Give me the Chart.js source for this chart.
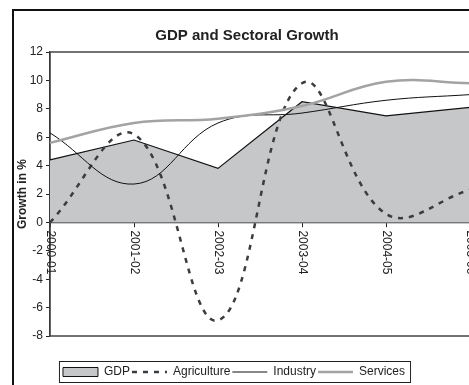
<!DOCTYPE html>
<html>
<head>
<meta charset="utf-8">
<script src="https://cdn.jsdelivr.net/npm/chart.js@4"></script>
<style>
  html, body { margin: 0; padding: 0; width: 469px; height: 385px; overflow: hidden; background: #fff; }
  #wrap { position: absolute; left: 0; top: 0; width: 500px; height: 400px; }
  #frame { position: absolute; left: 12px; top: 9px; width: 480px; height: 400px; border: 2px solid #111; pointer-events: none; }
</style>
</head>
<body>
<div id="wrap"><canvas id="gdpChart" width="500" height="400"></canvas></div>
<div id="frame"></div>
<script>
// categories and series
const years = ['2000-01', '2001-02', '2002-03', '2003-04', '2004-05', '2005-06'];
const gdp = [4.4, 5.8, 3.8, 8.5, 7.5, 8.1];
const agriculture = [0.0, 6.2, -6.9, 9.8, 0.6, 2.3];
const industry = [6.3, 2.7, 7.0, 7.7, 8.6, 9.0];
const services = [5.6, 7.0, 7.3, 8.2, 9.9, 9.8];

const font = 'Liberation Sans';

// x labels rotated clockwise under the zero line
const xLabels = {
    id: 'xLabels',
    afterDatasetsDraw(chart) {
        const ctx = chart.ctx;
        const xs = chart.scales.x;
        const y0 = chart.scales.y.getPixelForValue(0);
        ctx.save();
        ctx.font = '12px "' + font + '"';
        ctx.fillStyle = '#222';
        ctx.textAlign = 'left';
        ctx.textBaseline = 'middle';
        years.forEach((lab, i) => {
            ctx.save();
            ctx.translate(xs.getPixelForValue(i), y0 + 8);
            ctx.rotate(Math.PI / 2);
            ctx.fillText(lab, 0, 0);
            ctx.restore();
        });
        ctx.restore();
    }
};

// plot area frame + legend box + small position fixes
const frame = {
    id: 'frame',
    afterLayout(chart) {
        chart.legend.left -= 8;
        chart.legend.right -= 8;
        chart.legend.top += 28;
        chart.legend.bottom += 28;
        chart.titleBlock.left += 5;
        chart.titleBlock.right += 5;
    },
    beforeDatasetsDraw(chart) {
        const {ctx, chartArea: a} = chart;
        ctx.save();
        ctx.strokeStyle = '#444';
        ctx.lineWidth = 1.5;
        ctx.strokeRect(a.left, a.top, a.right - a.left, a.bottom - a.top);
        ctx.restore();
    },
    afterDraw(chart) {
        const boxes = chart.legend.legendHitBoxes;
        if (!boxes || !boxes.length) return;
        const first = boxes[0], last = boxes[boxes.length - 1];
        const cy = first.top + first.height / 2;
        const ctx = chart.ctx;
        ctx.save();
        ctx.strokeStyle = '#222';
        ctx.lineWidth = 1;
        ctx.strokeRect(first.left - 3.5, cy - 10.5, last.left + last.width - first.left + 9, 21);
        ctx.restore();
    }
};

const data = {
    labels: years,
    datasets: [
        {
            label: 'GDP',
            data: gdp,
            backgroundColor: '#c6c7c9',
            borderColor: '#111',
            borderWidth: 1.2,
            fill: 'origin',
            tension: 0,
            pointRadius: 0,
            pointStyle: 'rect',
            order: 4
        },
        {
            label: 'Agriculture',
            data: agriculture,
            borderColor: '#3a3d40',
            backgroundColor: '#3a3d40',
            borderWidth: 2.5,
            borderDash: [5, 6],
            fill: false,
            tension: 0.4,
            pointRadius: 0,
            pointStyle: 'line',
            order: 3
        },
        {
            label: 'Industry',
            data: industry,
            borderColor: '#111',
            backgroundColor: '#111',
            borderWidth: 1,
            fill: false,
            tension: 0.4,
            pointRadius: 0,
            pointStyle: 'line',
            order: 2
        },
        {
            label: 'Services',
            data: services,
            borderColor: '#a3a3a3',
            backgroundColor: '#a3a3a3',
            borderWidth: 2.5,
            fill: false,
            tension: 0.4,
            pointRadius: 0,
            pointStyle: 'line',
            order: 1
        }
    ]
};

const config = {
    type: 'line',
    data: data,
    options: {
        responsive: false,
        animation: false,
        layout: { padding: { left: 14, right: 30, top: 12, bottom: 40 } },
        scales: {
            x: {
                type: 'category',
                offset: false,
                position: { y: 0 },
                grid: { display: true, drawOnChartArea: false, drawTicks: true, tickLength: 4, color: '#222' },
                border: { display: true, color: '#222', width: 1.2 },
                ticks: { display: false }
            },
            y: {
                min: -8,
                max: 12,
                ticks: { stepSize: 2, color: '#222', padding: 3, font: { family: font, size: 12 } },
                grid: { display: true, drawOnChartArea: false, drawTicks: true, tickLength: 4, color: '#222' },
                border: { display: true, color: '#222', width: 1.2 },
                title: {
                    display: true,
                    text: 'Growth in %',
                    color: '#222',
                    padding: { top: 1, bottom: 0 },
                    font: { family: font, size: 12, weight: 'bold' }
                },
                afterFit(scale) { scale.width = 36; }
            }
        },
        plugins: {
            title: {
                display: true,
                text: 'GDP and Sectoral Growth',
                color: '#222',
                padding: { top: 15, bottom: 7 },
                font: { family: font, size: 15, weight: 'bold' }
            },
            legend: {
                position: 'bottom',
                labels: {
                    usePointStyle: true,
                    pointStyleWidth: 35,
                    boxHeight: 9,
                    padding: 2,
                    color: '#222',
                    font: { family: font, size: 12 },
                    // legend in dataset order, with each series' own line style
                    generateLabels(chart) {
                        return chart.data.datasets.map((ds, i) => ({
                            text: ds.label,
                            fillStyle: ds.backgroundColor,
                            strokeStyle: ds.borderColor,
                            lineWidth: ds.pointStyle === 'rect' ? 1 : ds.borderWidth,
                            lineDash: ds.borderDash || [],
                            pointStyle: ds.pointStyle,
                            fontColor: '#222',
                            hidden: false,
                            datasetIndex: i
                        }));
                    }
                }
            },
            tooltip: { enabled: false }
        }
    },
    plugins: [xLabels, frame]
};

const ctx = document.getElementById('gdpChart').getContext('2d');
const gdpChart = new Chart(ctx, config);
</script>
</body>
</html>
